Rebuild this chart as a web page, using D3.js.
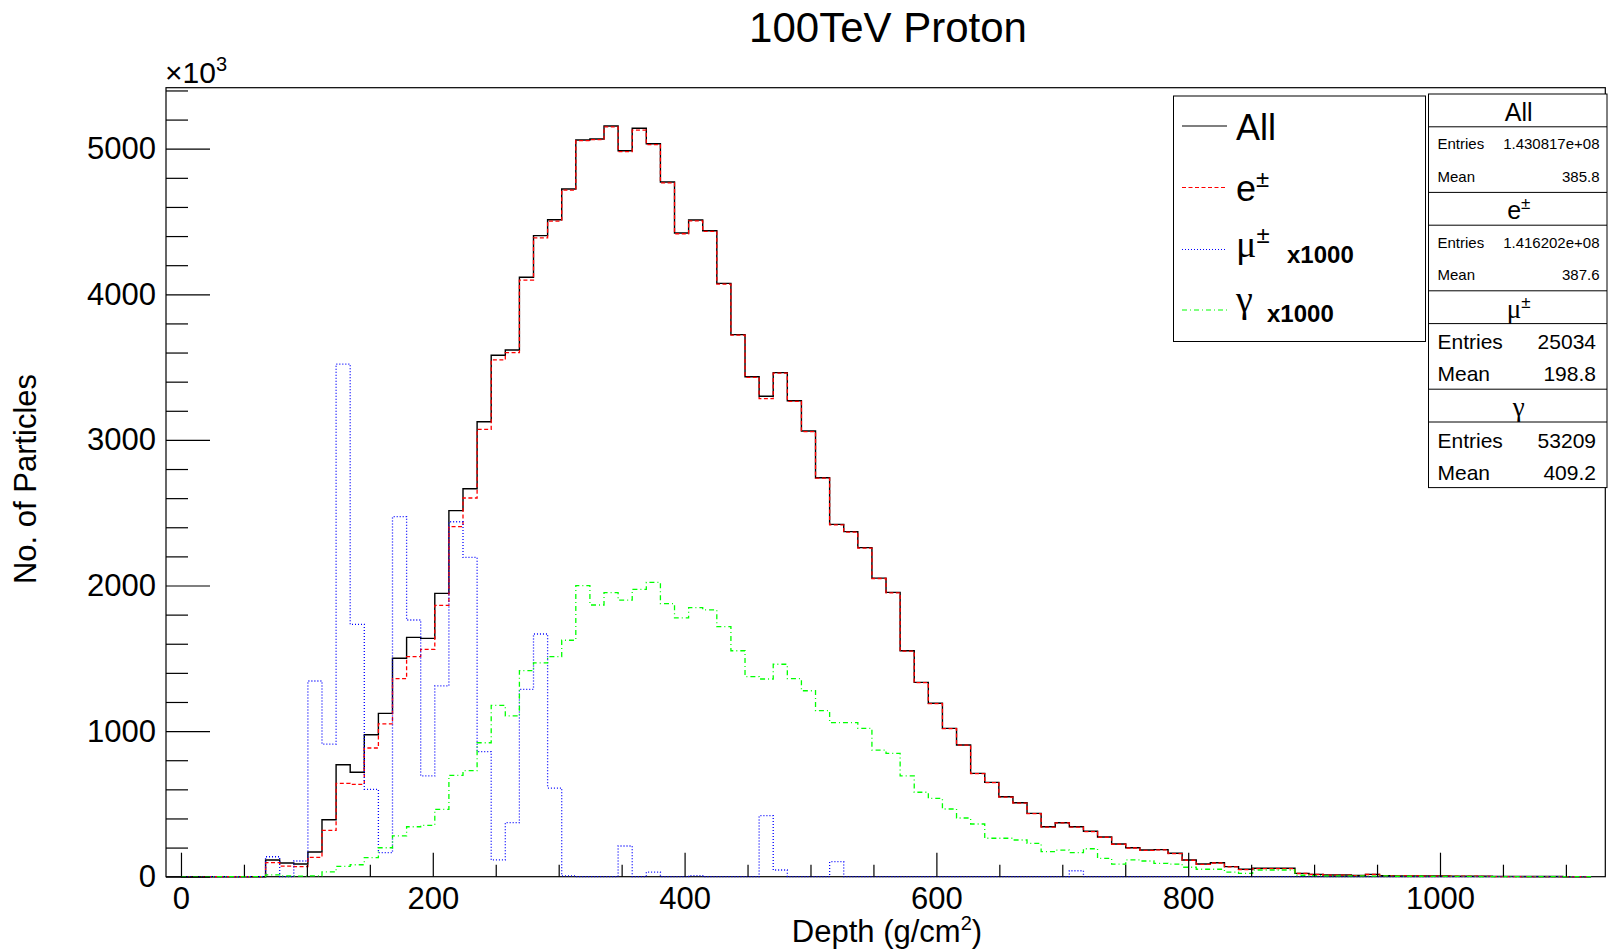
<!DOCTYPE html>
<html>
<head>
<meta charset="utf-8">
<script src="https://cdn.jsdelivr.net/npm/d3@7"></script>
<style>
	body { margin: 0; background: #fff; }
	svg { font-family: "Liberation Sans", Arial, sans-serif; }
</style>
</head>
<body>
<svg id="chart" width="1608" height="950"></svg>
<script>
// bin width in g/cm2, 100 bins from 0
const binWidth = 11.2;

// counts per bin, in units of 10^3 (mu and gamma already x1000)
const allCounts = [
	0, 0, 0, 0, 0, 0, 115, 94, 87, 170,
	391, 769, 717, 975, 1122, 1500, 1644, 1637, 1946, 2514,
	2665, 3125, 3581, 3617, 4117, 4403, 4512, 4723, 5060, 5067,
	5156, 4986, 5140, 5034, 4771, 4421, 4510, 4437, 4075, 3723,
	3434, 3300, 3462, 3269, 3061, 2740, 2420, 2370, 2260, 2051,
	1953, 1552, 1335, 1191, 1019, 905, 710, 648, 549, 508,
	435, 343, 371, 343, 312, 273, 225, 199, 183, 186,
	161, 115, 87, 96, 69, 51, 58, 58, 58, 23,
	16, 12, 12, 9, 16, 7, 6, 6, 5, 5,
	4, 4, 3, 2, 2, 1, 1, 1, 0, 0
];
const eCounts = [
	0, 0, 0, 0, 0, 0, 96, 73, 69, 133,
	318, 641, 634, 884, 1049, 1360, 1511, 1562, 1864, 2404,
	2601, 3073, 3549, 3599, 4098, 4387, 4503, 4716, 5055, 5062,
	5150, 4980, 5128, 5028, 4765, 4416, 4505, 4432, 4070, 3719,
	3430, 3283, 3458, 3265, 3057, 2737, 2417, 2367, 2257, 2048,
	1950, 1549, 1333, 1189, 1017, 903, 708, 646, 547, 506,
	433, 341, 369, 341, 310, 271, 223, 197, 181, 184,
	159, 113, 85, 94, 67, 49, 56, 56, 56, 22,
	15, 11, 11, 8, 15, 6, 5, 5, 4, 4,
	3, 3, 2, 1, 1, 1, 0, 0, 0, 0
];
const muCounts = [
	0, 0, 0, 0, 0, 0, 137, 0, 108, 1344,
	911, 3521, 1733, 600, 165, 2473, 1763, 692, 1310, 2438,
	2193, 859, 115, 371, 1287, 1667, 609, 5, 0, 0,
	0, 211, 0, 32, 0, 0, 7, 0, 0, 0,
	0, 419, 46, 0, 0, 0, 103, 0, 0, 0,
	0, 0, 0, 0, 0, 0, 0, 0, 0, 0,
	0, 0, 0, 41, 0, 0, 0, 0, 0, 0,
	0, 0, 0, 0, 0, 0, 0, 0, 0, 0,
	0, 0, 0, 0, 0, 0, 0, 0, 0, 0,
	0, 0, 0, 0, 0, 0, 0, 0, 0, 0
];
const gammaCounts = [
	0, 0, 0, 0, 0, 0, 12, 5, 4, 5,
	33, 71, 82, 131, 199, 280, 343, 353, 463, 696,
	728, 920, 1177, 1104, 1415, 1468, 1511, 1624, 1999, 1866,
	1951, 1900, 1974, 2022, 1875, 1777, 1848, 1832, 1717, 1552,
	1374, 1358, 1459, 1360, 1277, 1140, 1058, 1058, 1019, 870,
	847, 692, 580, 538, 465, 403, 362, 264, 264, 252,
	229, 172, 183, 165, 192, 126, 87, 115, 108, 92,
	87, 65, 51, 51, 32, 23, 46, 46, 46, 10,
	8, 6, 5, 5, 4, 6, 3, 3, 2, 2,
	2, 2, 1, 1, 1, 1, 1, 1, 1, 0
];

const xMajorTicks = [0, 200, 400, 600, 800, 1000];
const yMajorTicks = [0, 1000, 2000, 3000, 4000, 5000];

const legendNames = ['All', 'e', 'μ', 'γ'];
const legendSups = ['', '±', '±', ''];
const legendScales = ['', '', 'x1000', 'x1000'];

const statNames = ['All', 'e', 'μ', 'γ'];
const statSups = ['', '±', '±', ''];
const statEntries = ['1.430817e+08', '1.416202e+08', '25034', '53209'];
const statMeans = ['385.8', '387.6', '198.8', '409.2'];

const svg = d3.select('#chart');

let x = d3.scaleLinear()
		.domain([-11.9, 1131.3])
		.range([166, 1605.3]),
	y = d3.scaleLinear()
		.domain([0, 5419])
		.range([876.7, 87.7]);

const series = [
	{ counts: allCounts, color: '#000000', dash: null, width: 1.4 },
	{ counts: eCounts, color: '#ff0000', dash: '4,2.5', width: 1.3 },
	{ counts: muCounts, color: '#0000ff', dash: '1,2', width: 1.3 },
	{ counts: gammaCounts, color: '#00ff00', dash: '5,3,1,3', width: 1.3 }
];

// frame
svg.append('rect')
	.attr('x', x.range()[0])
	.attr('y', y.range()[1])
	.attr('width', x.range()[1] - x.range()[0])
	.attr('height', y.range()[0] - y.range()[1])
	.attr('fill', 'none')
	.attr('stroke', '#000')
	.attr('stroke-width', 1.2);

// histograms
function histPoints(counts) {
	let pts = [[0, 0]];
	for (let k = 0; k < counts.length; k++) {
		pts.push([k * binWidth, counts[k]]);
	}
	pts.push([counts.length * binWidth, counts[counts.length - 1]]);
	pts.push([counts.length * binWidth, 0]);
	return pts;
}

let lineGen = d3.line()
	.x(function (d) { return x(d[0]); })
	.y(function (d) { return y(d[1]); })
	.curve(d3.curveStepAfter);

for (let i = 0; i < series.length; i++) {
	svg.append('path')
		.attr('d', lineGen(histPoints(series[i].counts)))
		.attr('fill', 'none')
		.attr('stroke', series[i].color)
		.attr('stroke-width', series[i].width)
		.attr('stroke-dasharray', series[i].dash);
}

// axes, ROOT style ticks pointing into the frame
let xMinorTicks = d3.range(50, 1131, 50).filter(function (v) { return v % 200 !== 0; });
let yMinorTicks = d3.range(200, 5419, 200).filter(function (v) { return v % 1000 !== 0; });

function styleAxis(g) {
	g.select('.domain').remove();
	g.selectAll('line').attr('stroke', '#000').attr('stroke-width', 1.2);
	g.selectAll('text')
		.attr('font-family', '"Liberation Sans", Arial, sans-serif')
		.attr('font-size', 31)
		.attr('fill', '#000');
}

svg.append('g')
	.attr('transform', 'translate(0,' + y.range()[0] + ')')
	.call(d3.axisBottom(x).tickValues(xMajorTicks).tickSize(-24).tickPadding(10).tickFormat(d3.format('d')))
	.call(styleAxis);

svg.append('g')
	.attr('transform', 'translate(0,' + y.range()[0] + ')')
	.call(d3.axisBottom(x).tickValues(xMinorTicks).tickSize(-12).tickFormat(''))
	.call(styleAxis);

svg.append('g')
	.attr('transform', 'translate(' + x.range()[0] + ',0)')
	.call(d3.axisLeft(y).tickValues(yMajorTicks).tickSize(-44).tickPadding(10).tickFormat(d3.format('d')))
	.call(styleAxis);

svg.append('g')
	.attr('transform', 'translate(' + x.range()[0] + ',0)')
	.call(d3.axisLeft(y).tickValues(yMinorTicks).tickSize(-22).tickFormat(''))
	.call(styleAxis);

// exponent label
let expo = svg.append('text')
	.attr('x', x.range()[0] - 1)
	.attr('y', 83)
	.attr('font-size', 30);
expo.append('tspan').text('×10');
expo.append('tspan').attr('font-size', 20).attr('dy', -12).text('3');

// title
svg.append('text')
	.attr('x', 888)
	.attr('y', 42)
	.attr('text-anchor', 'middle')
	.attr('font-size', 42)
	.text('100TeV Proton');

// axis titles
let xTitle = svg.append('text')
	.attr('x', 887)
	.attr('y', 942)
	.attr('text-anchor', 'middle')
	.attr('font-size', 31);
xTitle.append('tspan').text('Depth (g/cm');
xTitle.append('tspan').attr('font-size', 20).attr('dy', -12).text('2');
xTitle.append('tspan').attr('dy', 12).text(')');

svg.append('text')
	.attr('transform', 'translate(36,479) rotate(-90)')
	.attr('text-anchor', 'middle')
	.attr('font-size', 31)
	.text('No. of Particles');

// legend
svg.append('rect')
	.attr('x', 1173.5).attr('y', 96)
	.attr('width', 252).attr('height', 245.5)
	.attr('fill', '#fff')
	.attr('stroke', '#000')
	.attr('stroke-width', 1);

const legendLineY = [126, 187.5, 249.5, 310];
const legendTextY = [139.5, 200.5, 257, 312];
const legendScaleX = [0, 0, 1287, 1267];

for (let i = 0; i < legendNames.length; i++) {
	svg.append('line')
		.attr('x1', 1182).attr('x2', 1227)
		.attr('y1', legendLineY[i]).attr('y2', legendLineY[i])
		.attr('stroke', series[i].color)
		.attr('stroke-width', i === 0 ? 1.2 : 1.1)
		.attr('stroke-dasharray', series[i].dash);

	let t = svg.append('text')
		.attr('x', 1236)
		.attr('y', legendTextY[i])
		.attr('font-size', 36);
	let nameSpan = t.append('tspan').text(legendNames[i]);
	if (i >= 2) nameSpan.attr('font-family', '"Liberation Serif", serif').attr('font-size', 38);
	if (legendSups[i]) {
		t.append('tspan').attr('font-size', 24).attr('dy', -14).text(legendSups[i]);
	}
	if (legendScales[i]) {
		svg.append('text')
			.attr('x', legendScaleX[i])
			.attr('y', legendTextY[i] + (i === 2 ? 6 : 10))
			.attr('font-size', 24)
			.attr('font-weight', 'bold')
			.text(legendScales[i]);
	}
}

// stat boxes
const statLeft = 1428.5, statRight = 1607, statTop = 94;
const headH = 32.8, bodyH = 65.6;

svg.append('rect')
	.attr('x', statLeft).attr('y', statTop)
	.attr('width', statRight - statLeft)
	.attr('height', statNames.length * (headH + bodyH))
	.attr('fill', '#fff')
	.attr('stroke', '#000')
	.attr('stroke-width', 1);

for (let i = 0; i < statNames.length; i++) {
	let top = statTop + i * (headH + bodyH);
	let big = i >= 2;
	if (i > 0) {
		svg.append('line')
			.attr('x1', statLeft).attr('x2', statRight)
			.attr('y1', top).attr('y2', top)
			.attr('stroke', '#000').attr('stroke-width', 1);
	}
	svg.append('line')
		.attr('x1', statLeft).attr('x2', statRight)
		.attr('y1', top + headH).attr('y2', top + headH)
		.attr('stroke', '#000').attr('stroke-width', 1);

	let h = svg.append('text')
		.attr('x', (statLeft + statRight) / 2 + 1)
		.attr('y', top + 27)
		.attr('text-anchor', 'middle')
		.attr('font-size', 25);
	let hs = h.append('tspan').text(statNames[i]);
	if (i >= 2) hs.attr('font-family', '"Liberation Serif", serif').attr('font-size', 27);
	if (statSups[i]) {
		h.append('tspan').attr('font-size', 17).attr('dy', -10).text(statSups[i]);
	}

	let fs = big ? 21 : 15;
	let rowY = big ? [25.5, 57.5] : [22.3, 54.7];
	let valX = big ? 1596 : 1599.5;
	let labels = ['Entries', 'Mean'];
	let vals = [statEntries[i], statMeans[i]];
	for (let r = 0; r < 2; r++) {
		svg.append('text')
			.attr('x', 1437.5)
			.attr('y', top + headH + rowY[r])
			.attr('font-size', fs)
			.text(labels[r]);
		svg.append('text')
			.attr('x', valX)
			.attr('y', top + headH + rowY[r])
			.attr('text-anchor', 'end')
			.attr('font-size', fs)
			.text(vals[r]);
	}
}
</script>
</body>
</html>
